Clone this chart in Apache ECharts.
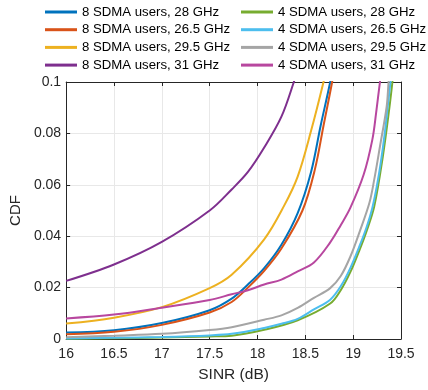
<!DOCTYPE html>
<html>
<head>
<meta charset="utf-8">
<script src="https://cdn.jsdelivr.net/npm/echarts@6/dist/echarts.min.js"></script>
<style>html,body{margin:0;padding:0;background:#fff}#c{width:428px;height:390px}</style>
</head>
<body>
<div id="c"></div>
<script>
// Series names (legend order)
const seriesNames = [
  '8 SDMA users, 28 GHz', '8 SDMA users, 26.5 GHz', '8 SDMA users, 29.5 GHz', '8 SDMA users, 31 GHz',
  '4 SDMA users, 28 GHz', '4 SDMA users, 26.5 GHz', '4 SDMA users, 29.5 GHz', '4 SDMA users, 31 GHz'
];
const seriesColors = ['#0072BD', '#D95319', '#EDB120', '#7E2F8E', '#77AC30', '#4DBEEE', '#A5A5A5', '#B8479F'];

// [SINR (dB), CDF] points
const s8_28 = [[16,0.0025],[16.5,0.0034],[17,0.0062],[17.5,0.0112],[17.73,0.0157],[17.9,0.0212],[18.07,0.0276],[18.25,0.0367],[18.42,0.049],[18.56,0.065],[18.66,0.083],[18.76,0.1],[18.78,0.105]];
const s8_265 = [[16,0.0018],[16.5,0.0028],[17,0.0055],[17.5,0.0103],[17.73,0.0144],[17.9,0.020],[18.07,0.0265],[18.25,0.0352],[18.47,0.050],[18.6,0.066],[18.69,0.083],[18.78,0.1],[18.8,0.105]];
const s8_295 = [[16,0.006],[16.5,0.0083],[17,0.0124],[17.5,0.0198],[17.73,0.025],[18.07,0.0388],[18.28,0.052],[18.42,0.0632],[18.56,0.081],[18.69,0.1],[18.71,0.104]];
const s8_31 = [[16,0.0226],[16.5,0.029],[17,0.0378],[17.5,0.050],[17.73,0.0582],[17.9,0.065],[18.07,0.0745],[18.25,0.0865],[18.38,0.1],[18.41,0.104]];
const s4_28 = [[16,0.0001],[16.5,0.0003],[17,0.0006],[17.5,0.001],[17.73,0.0013],[18.07,0.0036],[18.42,0.0073],[18.76,0.0138],[18.87,0.019],[18.97,0.026],[19.07,0.035],[19.14,0.042],[19.22,0.0515],[19.31,0.071],[19.38,0.0904],[19.41,0.1],[19.42,0.104]];
const s4_265 = [[16,0.0002],[16.5,0.0005],[17,0.0008],[17.5,0.0014],[17.73,0.002],[18.07,0.0043],[18.25,0.0059],[18.42,0.0078],[18.59,0.0115],[18.76,0.0153],[18.87,0.0205],[18.97,0.0276],[19.07,0.0365],[19.14,0.0435],[19.2,0.051],[19.25,0.060],[19.29,0.069],[19.33,0.080],[19.36,0.090],[19.39,0.1],[19.4,0.104]];
const s4_295 = [[16,0.0007],[16.5,0.0013],[17,0.002],[17.5,0.0035],[17.73,0.0046],[18.07,0.0075],[18.25,0.0092],[18.42,0.0121],[18.59,0.016],[18.76,0.0198],[18.87,0.0245],[18.97,0.032],[19.07,0.042],[19.17,0.053],[19.22,0.062],[19.28,0.0749],[19.35,0.0904],[19.37,0.1],[19.38,0.104]];
const s4_31 = [[16,0.008],[16.5,0.0095],[17,0.0122],[17.5,0.0152],[17.73,0.0174],[17.9,0.019],[18.07,0.0212],[18.25,0.0231],[18.42,0.0263],[18.59,0.0298],[18.76,0.0376],[18.87,0.0443],[18.97,0.051],[19.11,0.064],[19.2,0.0775],[19.24,0.088],[19.28,0.1],[19.3,0.105]];

const seriesData = [s8_28, s8_265, s8_295, s8_31, s4_28, s4_265, s4_295, s4_31];

// Axis ticks
const xTicks = [16, 16.5, 17, 17.5, 18, 18.5, 19, 19.5];
const yTicks = [0, 0.02, 0.04, 0.06, 0.08, 0.1];

const FONT = '"Liberation Sans", Arial, Helvetica, sans-serif';
const AX = '#262626';

const chart = echarts.init(document.getElementById('c'), null, {renderer: 'canvas'});

const legendCommon = {
  orient: 'vertical', top: 4, itemWidth: 32, itemHeight: 3, itemGap: 1.7, itemTextGap: 2,
  icon: 'rect', padding: 0,
  textStyle: {fontFamily: FONT, fontSize: 13.2, color: '#000', lineHeight: 16}
};

const option = {
  animation: false,
  backgroundColor: '#fff',
  legend: [
    Object.assign({}, legendCommon, {left: 45, data: seriesNames.slice(0, 4)}),
    Object.assign({}, legendCommon, {left: 241, data: seriesNames.slice(4)})
  ],
  grid: {left: 63, right: 27, top: 82, bottom: 51, containLabel: false},
  xAxis: [
    {
      type: 'value', min: xTicks[0], max: xTicks[xTicks.length - 1], interval: 0.5,
      name: 'SINR (dB)', nameLocation: 'middle', nameGap: 28,
      nameTextStyle: {fontFamily: FONT, fontSize: 15.5, color: AX},
      axisLine: {show: true, lineStyle: {color: AX, width: 1}},
      axisTick: {show: true, inside: true, length: 4, lineStyle: {color: AX}},
      axisLabel: {fontFamily: FONT, fontSize: 14, color: AX, margin: 8},
      splitLine: {show: true, lineStyle: {color: '#e8e8e8', width: 1}}
    },
    {
      type: 'value', position: 'top', min: xTicks[0], max: xTicks[xTicks.length - 1], interval: 0.5,
      axisLine: {show: true, onZero: false, lineStyle: {color: AX, width: 1}},
      axisTick: {show: true, inside: true, length: 4, lineStyle: {color: AX}},
      axisLabel: {show: false}, splitLine: {show: false}
    }
  ],
  yAxis: [
    {
      type: 'value', min: yTicks[0], max: yTicks[yTicks.length - 1], interval: 0.02,
      name: 'CDF', nameLocation: 'middle', nameGap: 37,
      nameTextStyle: {fontFamily: FONT, fontSize: 15, color: AX},
      axisLine: {show: true, lineStyle: {color: AX, width: 1}},
      axisTick: {show: true, inside: true, length: 4, lineStyle: {color: AX}},
      axisLabel: {fontFamily: FONT, fontSize: 14, color: AX, margin: 5},
      splitLine: {show: true, lineStyle: {color: '#e8e8e8', width: 1}}
    },
    {
      type: 'value', position: 'right', min: yTicks[0], max: yTicks[yTicks.length - 1], interval: 0.02,
      axisLine: {show: true, onZero: false, lineStyle: {color: AX, width: 1}},
      axisTick: {show: true, inside: true, length: 4, lineStyle: {color: AX}},
      axisLabel: {show: false}, splitLine: {show: false}
    }
  ],
  series: seriesNames.map((name, i) => ({
    name: name, type: 'line', data: seriesData[i], xAxisIndex: 0, yAxisIndex: 0,
    showSymbol: false, symbol: 'none', smooth: 0.35, clip: true,
    color: seriesColors[i],
    lineStyle: {width: 2, color: seriesColors[i]}
  }))
};
chart.setOption(option);
</script>
</body>
</html>
